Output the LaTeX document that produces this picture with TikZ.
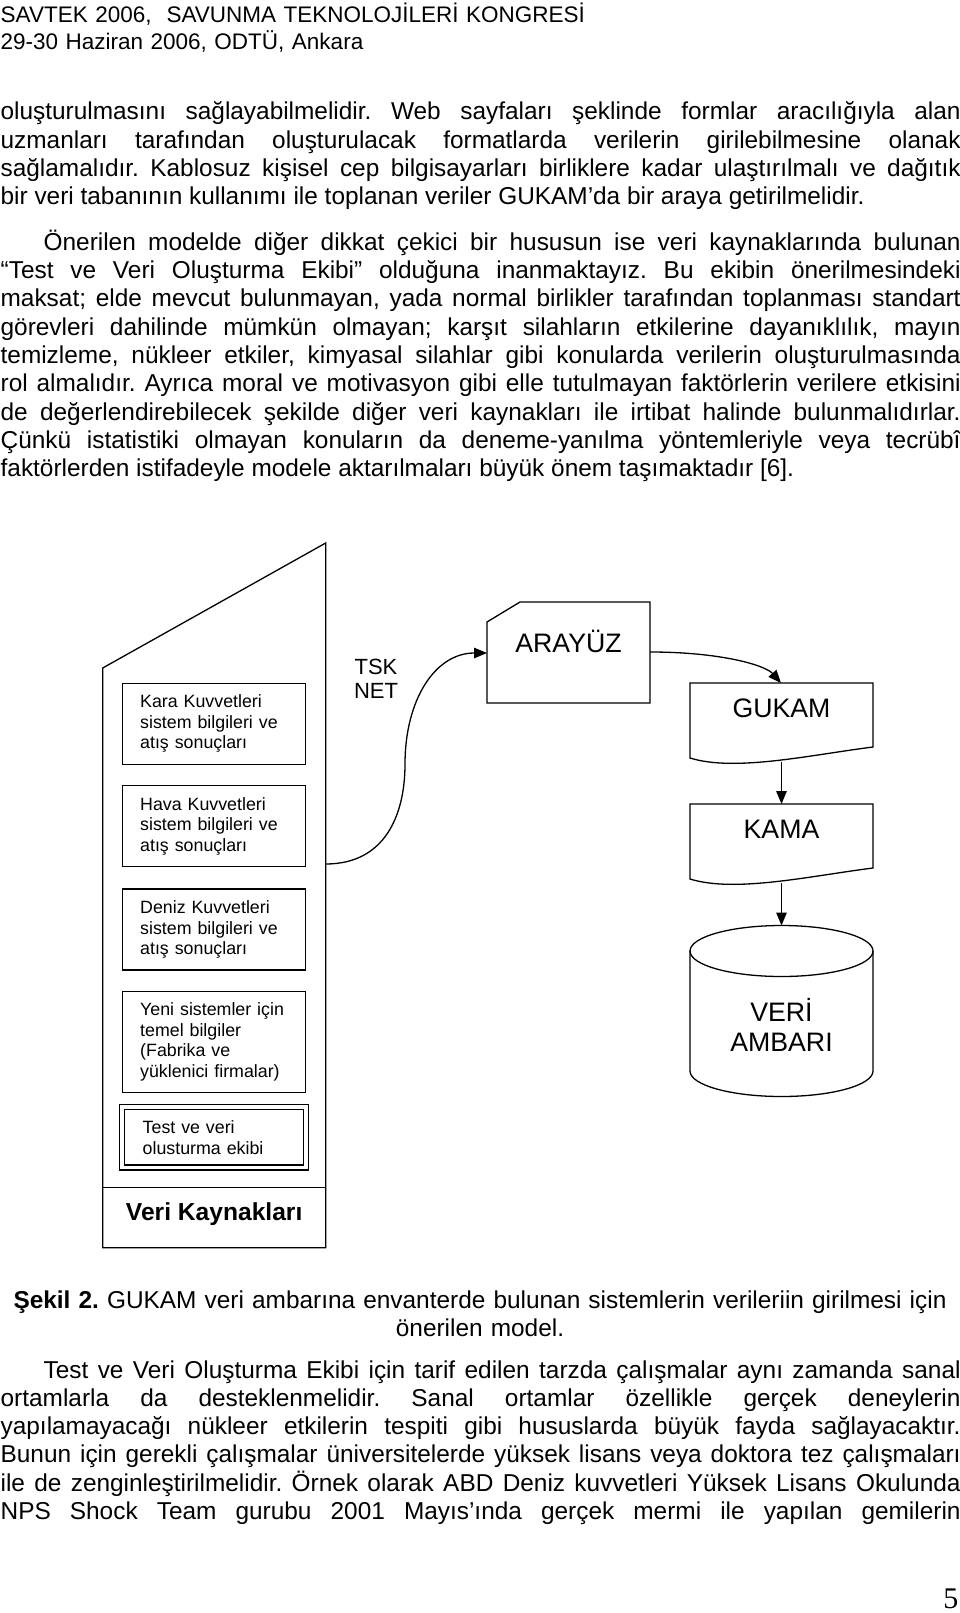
\documentclass[tikz,border=0pt]{standalone}
\usepackage{fontspec}
\setmainfont{Liberation Sans}
\newfontfamily\pagenofont{Liberation Serif}
\usetikzlibrary{arrows.meta}
\usetikzlibrary{calc}
\usetikzlibrary{positioning}

\tolerance=10000
\hyphenpenalty=10000
\frenchspacing

\tikzset{
  head/.style={anchor=base west, inner sep=0pt, text width=700pt, align=left, font=\fontsize{22.5}{26.8}\selectfont},
  body/.style={anchor=base west, inner sep=0pt, text width=960pt, align=justify, font=\fontsize{24.4}{28.3}\selectfont},
  srcbox/.style={draw, minimum width=183pt, minimum height=81pt, text width=148pt, inner xsep=17.5pt, inner ysep=0pt, align=left, font=\fontsize{17.8}{20.7}\selectfont},
  bigtext/.style={anchor=base, inner sep=0pt, font=\fontsize{26.7}{30}\selectfont},
}

\begin{document}
\begin{tikzpicture}[x=1pt, y=-1pt, line width=1.3pt, >={Triangle[length=13pt,width=10.5pt]}]
        \useasboundingbox[fill=white] (0,0) rectangle (960,1613);

        % page text
        \node[head] (kongre) at (0,22.6) {SAVTEK 2006,\ \ SAVUNMA TEKNOLOJİLERİ KONGRESİ\\29-30 Haziran 2006, ODTÜ, Ankara};

        \node[body] (par1) at (0,120) {oluşturulmasını sağlayabilmelidir. Web sayfaları şeklinde formlar aracılığıyla alan\linebreak
        uzmanları tarafından oluşturulacak formatlarda verilerin girilebilmesine olanak\linebreak
        sağlamalıdır. Kablosuz kişisel cep bilgisayarları birliklere kadar ulaştırılmalı ve dağıtık\linebreak
        bir veri tabanının kullanımı ile toplanan veriler GUKAM’da bir araya getirilmelidir.};

        \node[body] (par2) at (0,250.2) {\hspace*{43pt}Önerilen modelde diğer dikkat çekici bir hususun ise veri kaynaklarında bulunan\linebreak
        “Test ve Veri Oluşturma Ekibi” olduğuna inanmaktayız. Bu ekibin önerilmesindeki\linebreak
        maksat; elde mevcut bulunmayan, yada normal birlikler tarafından toplanması standart\linebreak
        görevleri dahilinde mümkün olmayan; karşıt silahların etkilerine dayanıklılık, mayın\linebreak
        temizleme, nükleer etkiler, kimyasal silahlar gibi konularda verilerin oluşturulmasında\linebreak
        rol almalıdır. Ayrıca moral ve motivasyon gibi elle tutulmayan faktörlerin verilere etkisini\linebreak
        de değerlendirebilecek şekilde diğer veri kaynakları ile irtibat halinde bulunmalıdırlar.\linebreak
        Çünkü istatistiki olmayan konuların da deneme-yanılma yöntemleriyle veya tecrübî\linebreak
        faktörlerden istifadeyle modele aktarılmaları büyük önem taşımaktadır [6].};

        % Veri Kaynaklari
        \draw (102.7,1247.7) -- (102.7,668) -- (325.7,543) -- (325.7,1247.7) -- cycle;
        \draw (102.7,1187.7) -- (325.7,1187.7);
        \coordinate (kaynak-out) at (325.7,864);

        \node[srcbox] (kara) at (214.2,723.7) {Kara Kuvvetleri\\sistem bilgileri ve\\atış sonuçları};
        \node[srcbox, below=20.3pt of kara] (hava) {Hava Kuvvetleri\\sistem bilgileri ve\\atış sonuçları};
        \node[srcbox, below=21pt of hava] (deniz) {Deniz Kuvvetleri\\sistem bilgileri ve\\atış sonuçları};
        \node[srcbox, below=20pt of deniz, minimum height=101pt] (yeni) {Yeni sistemler için\\temel bilgiler\\(Fabrika ve\\yüklenici firmalar)};
        \node[srcbox, double, double distance=3.7pt, minimum width=184pt, minimum height=60.3pt, text width=142pt, inner xsep=21pt] (ekip) at (213.7,1137.4) {Test ve veri\\olusturma ekibi};
        \node[anchor=base, inner sep=0pt, font=\bfseries\fontsize{24.6}{28}\selectfont] (kaynak) at (214.2,1220) {Veri Kaynakları};

        \node[anchor=base, inner sep=0pt, text width=60pt, align=center, font=\fontsize{22}{24}\selectfont] (tsknet) at (376,674) {TSK\\NET};

        % ARAYUZ
        \draw (487,703) -- (487,622) -- (520,602) -- (650,602) -- (650,703) -- cycle;
        \node[bigtext] (arayuz) at (568.5,652.5) {ARAYÜZ};
        \coordinate (arayuz-in) at (487,653);
        \coordinate (arayuz-out) at (650,652);

        % GUKAM, KAMA
        \draw (690,758) -- (690,683) -- (873,683) -- (873,747) .. controls (810,755) and (735,772) .. (690,758) -- cycle;
        \node[bigtext] (gukam) at (781.5,717.5) {GUKAM};
        \coordinate (gukam-in) at (781,683);
        \coordinate (gukam-out) at (781.5,762);

        \draw (690,879) -- (690,804) -- (873,804) -- (873,868) .. controls (810,876) and (735,893) .. (690,879) -- cycle;
        \node[bigtext] (kama) at (781.5,838.5) {KAMA};
        \coordinate (kama-in) at (781.5,804);
        \coordinate (kama-out) at (781.5,883);

        % VERI AMBARI
        \draw (690,951) -- (690,1071) arc[start angle=180, end angle=360, x radius=91.5pt, y radius=25.5pt] -- (873,951);
        \draw (781.5,951) ellipse [x radius=91.5pt, y radius=25.5pt];
        \node[bigtext, text width=183pt, align=center] (ambar) at (781.5,1021.5) {VERİ\\AMBARI};
        \coordinate (ambar-in) at (781.5,925.5);

        \draw[->] (kaynak-out) .. controls (385,864) and (405,815) .. (405,764) .. controls (405,700) and (435,653) .. (arayuz-in);
        \draw[->] (arayuz-out) .. controls (720,652) and (765,665) .. (gukam-in);
        \draw[->] (gukam-out) -- (kama-in);
        \draw[->] (kama-out) -- (ambar-in);

        % caption and text below
        \node[anchor=base, inner sep=0pt, text width=960pt, align=center, font=\fontsize{24.4}{28}\selectfont] (sekil) at (480,1308) {\textbf{Şekil 2.} GUKAM veri ambarına envanterde bulunan sistemlerin verileriin girilmesi için\\önerilen model.};

        \node[body] (par3) at (0,1378) {\hspace*{43pt}Test ve Veri Oluşturma Ekibi için tarif edilen tarzda çalışmalar aynı zamanda sanal\linebreak
        ortamlarla da desteklenmelidir. Sanal ortamlar özellikle gerçek deneylerin\linebreak
        yapılamayacağı nükleer etkilerin tespiti gibi hususlarda büyük fayda sağlayacaktır.\linebreak
        Bunun için gerekli çalışmalar üniversitelerde yüksek lisans veya doktora tez çalışmaları\linebreak
        ile de zenginleştirilmelidir. Örnek olarak ABD Deniz kuvvetleri Yüksek Lisans Okulunda\linebreak
        NPS Shock Team gurubu 2001 Mayıs’ında gerçek mermi ile yapılan gemilerin\linebreak\mbox{}};

        \node[anchor=base east, inner sep=0pt, font=\pagenofont\fontsize{30}{32}\selectfont] (sayfa) at (959,1608) {5};
    \end{tikzpicture}
\end{document}
